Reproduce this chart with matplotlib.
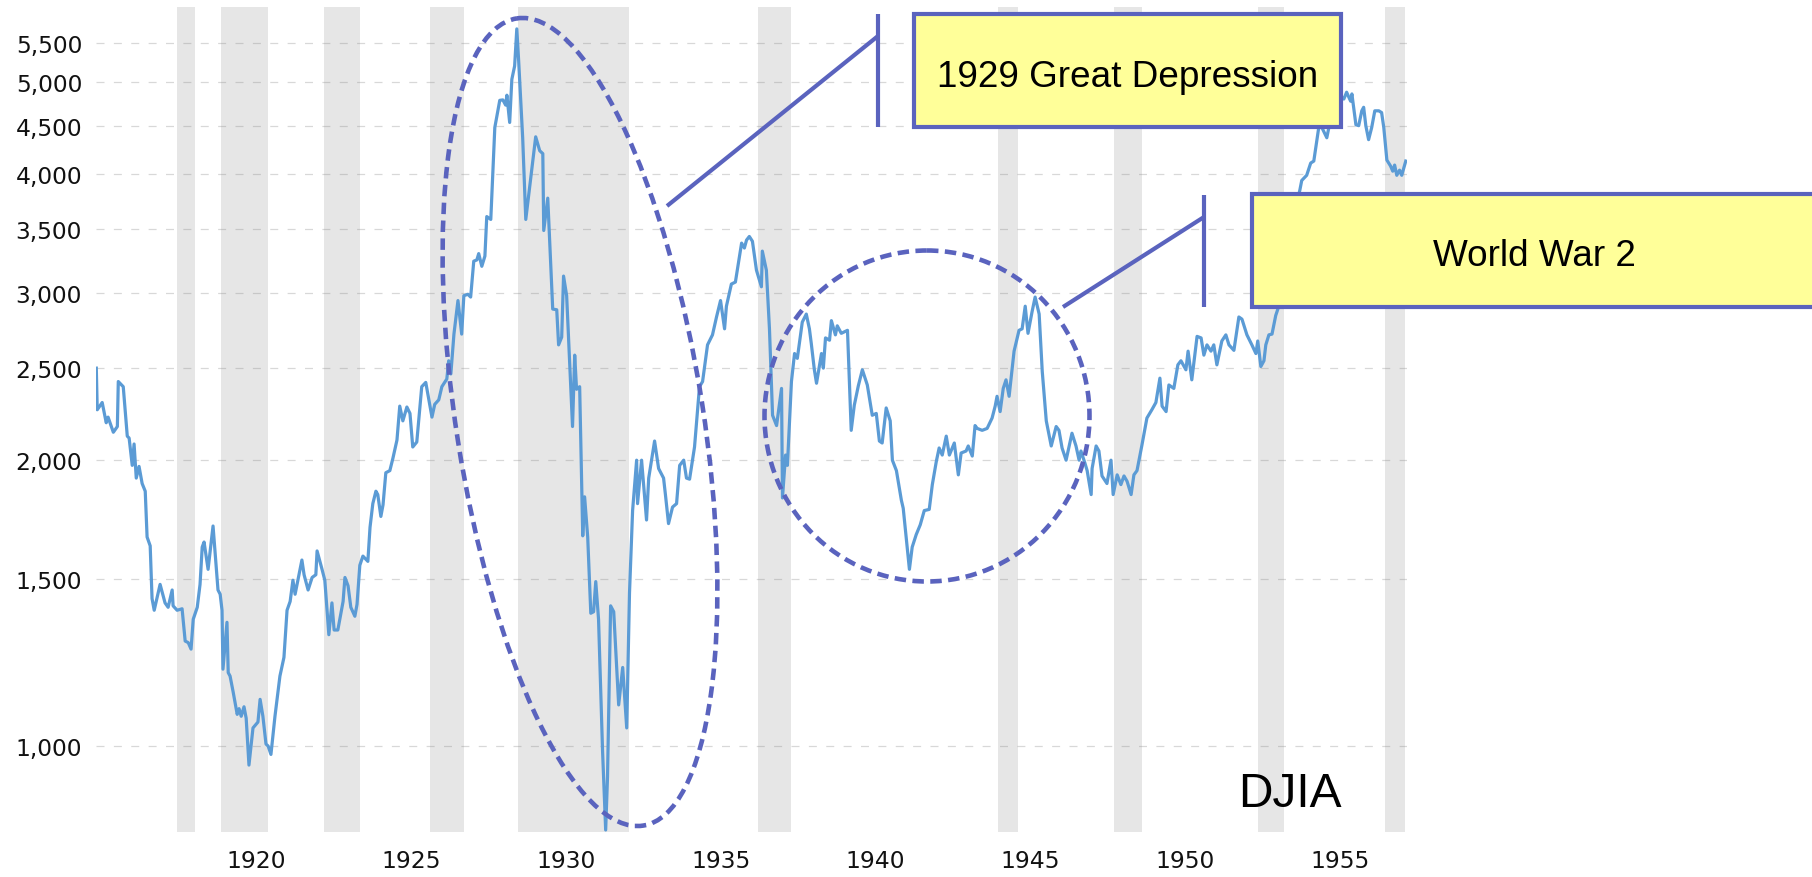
import matplotlib

matplotlib.use("Agg")
import matplotlib.pyplot as plt
from matplotlib.patches import Ellipse, Rectangle
from matplotlib.ticker import FixedLocator, FuncFormatter, NullLocator

# DJIA (inflation adjusted)
years = [
    1915.97, 1916.00, 1916.16, 1916.29, 1916.35, 1916.52, 1916.65, 1916.68, 1916.84, 1916.97,
    1917.03, 1917.13, 1917.19, 1917.26, 1917.35, 1917.45, 1917.55, 1917.61, 1917.71, 1917.77,
    1917.84, 1918.03, 1918.19, 1918.29, 1918.42, 1918.45, 1918.58, 1918.74, 1918.84, 1918.94,
    1919.03, 1919.10, 1919.23, 1919.32, 1919.39, 1919.45, 1919.58, 1919.74, 1919.90, 1919.97,
    1920.03, 1920.06, 1920.19, 1920.23, 1920.29, 1920.39, 1920.52, 1920.58, 1920.65, 1920.74,
    1920.81, 1920.90, 1921.03, 1921.19, 1921.26, 1921.35, 1921.45, 1921.52, 1921.61, 1921.74,
    1921.90, 1922.03, 1922.13, 1922.23, 1922.32, 1922.39, 1922.61, 1922.68, 1922.81, 1922.94,
    1923.06, 1923.10, 1923.26, 1923.35, 1923.48, 1923.58, 1923.65, 1923.77, 1923.87, 1923.94,
    1924.00, 1924.10, 1924.19, 1924.32, 1924.39, 1924.48, 1924.58, 1924.74, 1924.81, 1924.90,
    1925.00, 1925.06, 1925.16, 1925.23, 1925.32, 1925.45, 1925.55, 1925.68, 1925.77, 1925.87,
    1926.00, 1926.10, 1926.19, 1926.32, 1926.48, 1926.61, 1926.81, 1926.90, 1927.03, 1927.13,
    1927.29, 1927.35, 1927.42, 1927.52, 1927.65, 1927.77, 1927.84, 1927.97, 1928.06, 1928.16,
    1928.26, 1928.32, 1928.42, 1928.52, 1928.58, 1928.71, 1928.84, 1929.00, 1929.10, 1929.19,
    1929.23, 1929.32, 1929.39, 1929.48, 1929.55, 1929.61, 1929.74, 1929.84, 1930.03, 1930.16,
    1930.29, 1930.39, 1930.42, 1930.55, 1930.71, 1930.84, 1930.90, 1931.00, 1931.06, 1931.16,
    1931.35, 1931.42, 1931.48, 1931.58, 1931.68, 1931.74, 1931.84, 1931.94, 1932.03, 1932.10,
    1932.19, 1932.32, 1932.42, 1932.48, 1932.58, 1932.68, 1932.84, 1932.97, 1933.10, 1933.19,
    1933.29, 1933.42, 1933.45, 1933.58, 1933.74, 1933.81, 1934.00, 1934.13, 1934.29, 1934.35,
    1934.45, 1934.58, 1934.71, 1934.81, 1934.94, 1935.03, 1935.13, 1935.29, 1935.45, 1935.55,
    1935.71, 1935.87, 1936.00, 1936.13, 1936.26, 1936.32, 1936.48, 1936.61, 1936.81, 1936.90,
    1936.97, 1937.06, 1937.16, 1937.29, 1937.45, 1937.48, 1937.61, 1937.71, 1937.81, 1937.94,
    1938.10, 1938.13, 1938.23, 1938.29, 1938.42, 1938.52, 1938.61, 1938.77, 1938.90, 1939.00,
    1939.06, 1939.16, 1939.23, 1939.39, 1939.45, 1939.52, 1939.65, 1939.71, 1939.84, 1939.90,
    1940.03, 1940.23, 1940.35, 1940.45, 1940.58, 1940.71, 1940.87, 1941.03, 1941.16, 1941.26,
    1941.35, 1941.48, 1941.61, 1941.68, 1941.81, 1941.97, 1942.03, 1942.23, 1942.32, 1942.45,
    1942.58, 1942.71, 1942.87, 1942.97, 1943.10, 1943.19, 1943.29, 1943.42, 1943.52, 1943.68,
    1943.81, 1943.90, 1944.06, 1944.13, 1944.26, 1944.35, 1944.42, 1944.58, 1944.74, 1944.90,
    1945.00, 1945.06, 1945.16, 1945.26, 1945.35, 1945.45, 1945.61, 1945.77, 1945.87, 1945.97,
    1946.06, 1946.19, 1946.29, 1946.42, 1946.52, 1946.65, 1946.81, 1946.97, 1947.06, 1947.16,
    1947.29, 1947.48, 1947.61, 1947.71, 1947.77, 1947.90, 1947.97, 1948.10, 1948.13, 1948.26,
    1948.35, 1948.45, 1948.61, 1948.74, 1948.81, 1948.94, 1949.06, 1949.16, 1949.26, 1949.39,
    1949.48, 1949.58, 1949.74, 1949.90, 1950.06, 1950.19, 1950.32, 1950.39, 1950.52, 1950.61,
    1950.77, 1950.90, 1951.00, 1951.16, 1951.23, 1951.35, 1951.52, 1951.65, 1951.74, 1951.84,
    1951.97, 1952.06, 1952.16, 1952.32, 1952.45, 1952.55, 1952.71, 1952.87, 1952.97, 1953.13,
    1953.29, 1953.42, 1953.48, 1953.58, 1953.68, 1953.74, 1953.84, 1953.94, 1954.06, 1954.16,
    1954.35, 1954.58, 1954.74, 1954.84, 1954.90, 1955.06, 1955.19, 1955.29, 1955.45, 1955.55,
    1955.71, 1955.90, 1956.10, 1956.26, 1956.35, 1956.48, 1956.52, 1956.65, 1956.74, 1956.84,
    1956.90, 1956.97, 1957.06, 1957.16, 1957.26, 1957.39, 1957.48, 1957.55, 1957.65, 1957.77,
    1957.84, 1957.90, 1957.97, 1958.06, 1958.13, 1958.26,
]
djia = [
    2500, 2260, 2300, 2190, 2220, 2140, 2170, 2420, 2390, 2120,
    2110, 1975, 2080, 1915, 1970, 1890, 1855, 1660, 1625, 1430,
    1390, 1480, 1415, 1400, 1460, 1405, 1390, 1395, 1290, 1285,
    1265, 1360, 1400, 1480, 1620, 1640, 1535, 1705, 1460, 1445,
    1390, 1205, 1350, 1195, 1185, 1140, 1080, 1095, 1075, 1100,
    1070, 955, 1045, 1060, 1120, 1075, 1005, 1000, 980, 1075,
    1185, 1240, 1390, 1420, 1495, 1445, 1570, 1515, 1460, 1505,
    1515, 1605, 1535, 1495, 1310, 1415, 1325, 1325, 1380, 1420,
    1505, 1475, 1400, 1370, 1410, 1550, 1585, 1565, 1700, 1800,
    1855, 1840, 1745, 1795, 1940, 1950, 2010, 2100, 2280, 2200,
    2275, 2240, 2065, 2090, 2390, 2415, 2220, 2290, 2315, 2390,
    2435, 2545, 2465, 2715, 2945, 2715, 2980, 2990, 2970, 3240,
    3250, 3300, 3200, 3280, 3610, 3585, 4480, 4785, 4790, 4730,
    4845, 4535, 5035, 5200, 5690, 5265, 4370, 3585, 4040, 4380,
    4235, 4205, 3490, 3775, 2885, 2880, 2645, 2695, 3125, 2980,
    2170, 2580, 2375, 2390, 1665, 1830, 1660, 1380, 1385, 1490,
    1360, 988, 816, 928, 1405, 1385, 1105, 1210, 1045, 1450,
    1770, 2000, 1800, 2000, 1730, 1915, 2095, 1960, 1915, 1840,
    1715, 1785, 1800, 1975, 2000, 1915, 1910, 2065, 2390, 2420,
    2645, 2710, 2830, 2945, 2750, 2905, 3065, 3080, 3385, 3345,
    3410, 3440, 3400, 3170, 3045, 3320, 3170, 2750, 2230, 2175,
    2380, 1825, 2025, 1975, 2420, 2590, 2560, 2795, 2850, 2750,
    2655, 2490, 2410, 2590, 2500, 2690, 2675, 2805, 2710, 2770,
    2720, 2740, 2150, 2285, 2395, 2490, 2400, 2230, 2240, 2095,
    2085, 2270, 2200, 2000, 1950, 1815, 1780, 1535, 1620, 1670,
    1710, 1770, 1775, 1885, 1995, 2060, 2025, 2120, 2025, 2085,
    1930, 2035, 2045, 2070, 2020, 2175, 2160, 2150, 2160, 2215,
    2280, 2335, 2250, 2380, 2430, 2335, 2605, 2740, 2750, 2905,
    2720, 2865, 2970, 2850, 2480, 2200, 2070, 2170, 2150, 2060,
    2000, 2135, 2070, 2000, 2045, 1985, 1950, 1840, 1960, 2070,
    2045, 1925, 1890, 2000, 1840, 1930, 1885, 1925, 1900, 1840,
    1930, 1950, 2075, 2215, 2260, 2300, 2440, 2280, 2250, 2400,
    2380, 2520, 2545, 2490, 2605, 2430, 2700, 2690, 2580, 2645,
    2605, 2645, 2520, 2670, 2710, 2645, 2610, 2830, 2815, 2710,
    2645, 2590, 2670, 2510, 2545, 2645, 2710, 2715, 2840, 2905,
    3140, 3425, 3730, 3850, 3940, 3990, 4110, 4130, 4480, 4480,
    4370, 4690, 4855, 4800, 4880, 4775, 4860, 4510, 4500, 4665,
    4705, 4500, 4350, 4480, 4665, 4665, 4645, 4480, 4140, 4080,
    4030, 4090, 3990, 4040, 3990, 4130,
]

# NBER recessions (shaded bands)
recession_starts = [1918.58, 1920.00, 1923.33, 1926.75, 1929.58, 1937.33, 1945.08, 1948.83, 1953.50, 1957.58]
recession_ends = [1919.17, 1921.50, 1924.50, 1927.83, 1933.17, 1938.42, 1945.75, 1949.75, 1954.33, 1958.25]

y_ticks = [1000, 1500, 2000, 2500, 3000, 3500, 4000, 4500, 5000, 5500]
x_label_years = [1920, 1925, 1930, 1935, 1940, 1945, 1950, 1955]
LABEL_OFFSET = 1.14  # the source chart prints its year labels a bit right of Jan 1

LINE_BLUE = "#5b9bd5"
NOTE_BLUE = "#5a63be"
NOTE_FILL = "#ffff99"

W, H = 1812, 878
fig = plt.figure(figsize=(W / 100, H / 100), dpi=100)
ax = fig.add_axes([96 / W, 45 / H, 1311 / W, 825 / H])

for start, end in zip(recession_starts, recession_ends):
    ax.axvspan(start, end, color="#e6e6e6", lw=0, zorder=0)

ax.plot(years, djia, color=LINE_BLUE, lw=2.3, zorder=3, solid_joinstyle="round")

ax.set_yscale("log")
ax.set_ylim(812, 6000)
ax.set_xlim(1915.96, 1958.3)
ax.yaxis.set_major_locator(FixedLocator(y_ticks))
ax.yaxis.set_minor_locator(NullLocator())
ax.yaxis.set_major_formatter(FuncFormatter(lambda v, _: f"{v:,.0f}"))
ax.set_xticks([y + LABEL_OFFSET for y in x_label_years])
ax.set_xticklabels([str(y) for y in x_label_years])
ax.tick_params(length=0, labelsize=16.8, colors="#111111")
ax.tick_params(axis="y", pad=10)
ax.tick_params(axis="x", pad=12)
ax.grid(axis="y", color="#808080", alpha=0.3, lw=0.9, linestyle=(0, (6.4, 7.5)))
ax.grid(axis="x", visible=False)
for spine in ax.spines.values():
    spine.set_visible(False)

# annotation layer in pixel units (y downwards)
ov = fig.add_axes([0, 0, 1, 1], zorder=5)
ov.set_xlim(0, W)
ov.set_ylim(H, 0)
ov.axis("off")

dash = (0, (2.5, 1.4))
ov.add_patch(Ellipse((580, 423), 247, 817, angle=-8.9, fill=False,
                     ec=NOTE_BLUE, lw=3.3, linestyle=dash))
ov.add_patch(Ellipse((927, 417), 325, 331, fill=False,
                     ec=NOTE_BLUE, lw=3.3, linestyle=dash))

ov.plot([667, 878], [207, 37], color=NOTE_BLUE, lw=3.0, solid_capstyle="butt")
ov.plot([878, 878], [15, 128], color=NOTE_BLUE, lw=3.0, solid_capstyle="butt")
ov.plot([1063, 1204], [308, 218], color=NOTE_BLUE, lw=3.0, solid_capstyle="butt")
ov.plot([1204, 1204], [196, 308], color=NOTE_BLUE, lw=3.0, solid_capstyle="butt")

ov.add_patch(Rectangle((914, 15), 427, 113, fc=NOTE_FILL, ec=NOTE_BLUE, lw=3.0))
ov.add_patch(Rectangle((1252, 195), 600, 113, fc=NOTE_FILL, ec=NOTE_BLUE, lw=3.0))

ov.text(1128, 87, "1929 Great Depression", ha="center", va="baseline",
        fontsize=26.6, family="Liberation Sans", color="black")
ov.text(1534, 266, "World War 2", ha="center", va="baseline",
        fontsize=26.6, family="Liberation Sans", color="black")
ov.text(1290, 807, "DJIA", ha="center", va="baseline",
        fontsize=34.5, family="Liberation Sans", color="black")

fig.savefig("out.png", dpi=100)
plt.close(fig)
